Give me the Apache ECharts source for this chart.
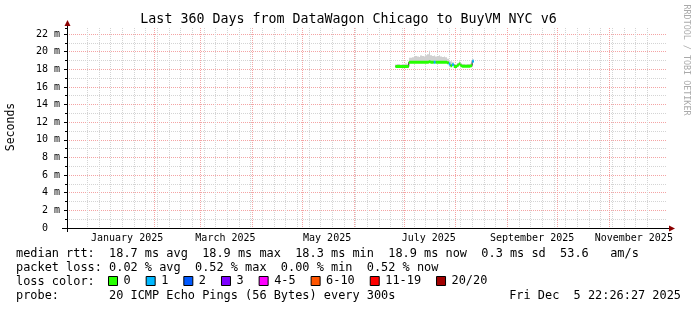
<!DOCTYPE html>
<html><head><meta charset="utf-8">
<script src="https://cdn.jsdelivr.net/npm/echarts@6/dist/echarts.min.js"></script>
<style>html,body{margin:0;padding:0;background:#fff}#c{width:697px;height:310px}</style>
</head><body><div id="c"></div>
<script>
// ---- data ----
const dates = ['2025-06-26','2025-06-27','2025-06-28','2025-06-29','2025-06-30','2025-07-01','2025-07-02','2025-07-03',
  '2025-07-04','2025-07-05','2025-07-06','2025-07-07','2025-07-08','2025-07-09','2025-07-10','2025-07-11','2025-07-12',
  '2025-07-13','2025-07-14','2025-07-15','2025-07-16','2025-07-17','2025-07-18','2025-07-19','2025-07-20','2025-07-21',
  '2025-07-22','2025-07-23','2025-07-24','2025-07-25','2025-07-26','2025-07-27','2025-07-28','2025-07-29','2025-07-30',
  '2025-07-31','2025-08-01','2025-08-02','2025-08-03','2025-08-04','2025-08-05','2025-08-06','2025-08-07','2025-08-08',
  '2025-08-09','2025-08-10','2025-08-11'];
const medianMs = [18.3,18.3,18.3,18.3,18.3,18.3,18.3,18.3,
  18.8,18.8,18.8,18.8,18.8,18.8,18.8,18.8,18.8,
  18.8,18.8,18.8,18.85,18.8,18.8,18.8,18.8,18.8,
  18.8,18.8,18.8,18.8,18.8,18.75,18.6,18.4,18.5,
  18.3,18.3,18.45,18.6,18.4,18.35,18.35,18.35,18.35,
  18.35,18.4,18.9];
const lossPings = [0,0,0,0,0,0,0,0,
  0,0,0,0,0,0,0,0,0,
  0,0,0,0,0,0,1,0,0,
  0,0,0,0,0,0,1,0,1,
  0,0,0,0,0,0,0,0,0,
  0,0,1];
const smokeHiMs = [18.55,18.6,18.6,18.55,18.6,18.6,18.65,18.6,
  19.3,19.3,19.35,19.4,19.5,19.45,19.4,19.55,19.5,
  19.45,19.6,19.7,20.1,19.6,19.5,19.55,19.45,19.5,
  19.6,19.45,19.4,19.45,19.35,19.2,19.0,18.9,18.8,
  18.6,18.6,18.7,18.9,18.7,18.6,18.6,18.55,18.6,
  18.6,18.65,19.1];
const lossNames = ['0','1','2','3','4-5','6-10','11-19','20/20'];
const lossColors = ['#26ff00','#00b8ff','#0059ff','#7e00ff','#ff00ff','#ff5500','#ff0000','#a10000'];
const lossUpper = [0,1,2,3,5,10,19,20];
const monthLabels = ['January 2025','March 2025','May 2025','July 2025','September 2025','November 2025'];
const yTickLabels = ['0  ','2 m','4 m','6 m','8 m','10 m','12 m','14 m','16 m','18 m','20 m','22 m'];
const titleText = 'Last 360 Days from DataWagon Chicago to BuyVM NYC v6';
const rttLine = 'median rtt:  18.7 ms avg  18.9 ms max  18.3 ms min  18.9 ms now  0.3 ms sd  53.6   am/s';
const lossLine = 'packet loss: 0.02 % avg  0.52 % max  0.00 % min  0.52 % now';
const probeLine = 'probe:       20 ICMP Echo Pings (56 Bytes) every 300s';
const stampText = 'Fri Dec  5 22:26:27 2025';

// ---- layout ----
const MONO = "'DejaVu Sans Mono', monospace";
const GL = 67, GR = 667, GT = 28, GB = 228;
const DAY = 86400000;
const END = Date.UTC(2025, 11, 5, 22, 26, 27);
const START = END - 360 * DAY;
const YMAX = 22.68;

const ts = dates.map(d => Date.parse(d + 'T00:00:00Z'));
const monthStarts = [];
for (let m = 0; m < 12; m++) { const t = Date.UTC(2025, m, 1); if (t > START && t < END) monthStarts.push(t); }
const labelValues = monthLabels.map((s, i) => Date.UTC(2025, i * 2, 16));
const mondays = [];
for (let t = Date.UTC(2024, 11, 16); t < END; t += 7 * DAY) mondays.push(t);

const lastT = ts[ts.length - 1] + DAY;
const medData = ts.map((t, i) => [t, medianMs[i]]).concat([[lastT, medianMs[medianMs.length - 1]]]);
const smokeData = ts.map((t, i) => [t, medianMs[i], smokeHiMs[i]]);

function lossCat(n) { for (let k = 0; k < lossUpper.length; k++) if (n <= lossUpper[k]) return k; return lossUpper.length - 1; }
const bandSeries = lossNames.map((name, k) => {
  const d = [];
  ts.forEach((t, i) => {
    if (lossCat(lossPings[i]) !== k) return;
    const tn = i + 1 < ts.length ? ts[i + 1] : lastT;
    d.push([t, medianMs[i]], [tn, medianMs[i]], [tn + 1, null]);
  });
  return { name: 'band' + name, type: 'line', xAxisIndex: 1, yAxisIndex: 1, data: d, showSymbol: false, symbol: 'none',
    connectNulls: false, silent: true, lineStyle: { color: lossColors[k], width: 3, cap: 'butt' }, z: 4 };
});
const legendSeries = lossNames.map((name, k) => ({ name, type: 'bar', xAxisIndex: 1, yAxisIndex: 1, data: [], itemStyle: { color: lossColors[k] } }));

const chart = echarts.init(document.getElementById('c'), null, { renderer: 'canvas' });
const grayDot = { color: '#d4d4d4', width: 1, type: [1, 1] };
const redDot = { color: '#f4a4a4', width: 1, type: [1, 1] };
chart.setOption({
  animation: false,
  backgroundColor: '#ffffff',
  textStyle: { fontFamily: MONO },
  grid: { left: GL, right: 697 - GR, top: GT, bottom: 310 - GB, containLabel: false },
  xAxis: [
    { type: 'value', min: START, max: END, position: 'bottom',
      axisLine: { show: false }, axisLabel: { show: false },
      axisTick: { show: false, customValues: mondays },
      splitLine: { show: true, lineStyle: grayDot, showMinLine: false, showMaxLine: false } },
    { type: 'value', min: START, max: END, position: 'bottom',
      axisLine: { show: true, lineStyle: { color: '#000', width: 1 } },
      axisTick: { show: false, customValues: monthStarts },
      axisLabel: { show: true, customValues: labelValues, margin: 5, fontFamily: MONO, fontSize: 10, color: '#000',
        formatter: v => { const i = labelValues.indexOf(v); return i >= 0 ? monthLabels[i] : ''; } },
      splitLine: { show: true, lineStyle: redDot, showMinLine: false, showMaxLine: false } }
  ],
  yAxis: [
    { type: 'value', min: 0, max: YMAX, interval: 1, position: 'left',
      axisLine: { show: false }, axisLabel: { show: false },
      axisTick: { show: true, length: 2, lineStyle: { color: '#000' } },
      splitLine: { show: true, lineStyle: grayDot, showMinLine: false, showMaxLine: false } },
    { type: 'value', min: 0, max: YMAX, interval: 2, position: 'left',
      axisLine: { show: true, lineStyle: { color: '#000', width: 1 } },
      axisTick: { show: true, length: 3, lineStyle: { color: '#000' } },
      axisLabel: { show: true, margin: 7, fontFamily: MONO, fontSize: 10, color: '#000', showMaxLabel: false,
        formatter: v => { const i = Math.round(v / 2); return (Math.abs(v - i * 2) < 1e-6 && yTickLabels[i] !== undefined) ? yTickLabels[i] : ''; } },
      splitLine: { show: true, lineStyle: redDot, showMinLine: false, showMaxLine: false } }
  ],
  legend: {
    data: lossNames, left: 108, top: 275, padding: 0, itemGap: 15, itemWidth: 9, itemHeight: 9,
    icon: 'rect', selectedMode: false,
    itemStyle: { borderColor: '#000', borderWidth: 1 },
    textStyle: { fontFamily: MONO, fontSize: 11.9, color: '#000', padding: [0, 0, 0, 1] }
  },
  series: [
    { name: 'smoke', type: 'custom', xAxisIndex: 1, yAxisIndex: 1, data: smokeData, silent: true, z: 2,
      encode: { x: 0, y: [1, 2] },
      renderItem: (params, api) => {
        const t = api.value(0), lo = api.value(1), hi = api.value(2);
        const a = api.coord([t, hi]), b = api.coord([t + DAY, lo]);
        const x0 = Math.round(a[0]), x1 = Math.round(b[0]);
        return { type: 'rect', shape: { x: x0, y: a[1], width: Math.max(1, x1 - x0), height: b[1] - a[1] },
          style: { fill: '#d0d0d0' } };
      } },
    { name: 'median', type: 'line', xAxisIndex: 1, yAxisIndex: 1, step: 'end', data: medData,
      symbol: 'none', silent: true, lineStyle: { color: '#202020', width: 1 }, z: 3 }
  ].concat(bandSeries, legendSeries),
  graphic: [
    { type: 'text', left: 'center', top: 13, style: { text: titleText, font: '13.3px ' + MONO, fill: '#000' } },
    { type: 'text', x: 11, y: 127, rotation: Math.PI / 2, style: { text: 'Seconds', font: '11.5px ' + MONO, fill: '#000', align: 'center', verticalAlign: 'middle' } },
    { type: 'text', x: 686, y: 60, rotation: -Math.PI / 2, style: { text: 'RRDTOOL / TOBI OETIKER', font: '8.4px ' + MONO, fill: '#aaaaaa', align: 'center', verticalAlign: 'middle' } },
    { type: 'text', x: 16, y: 254, style: { text: rttLine, font: '11.9px ' + MONO, fill: '#000', verticalAlign: 'middle' } },
    { type: 'text', x: 16, y: 268, style: { text: lossLine, font: '11.9px ' + MONO, fill: '#000', verticalAlign: 'middle' } },
    { type: 'text', x: 16, y: 282, style: { text: 'loss color:', font: '11.9px ' + MONO, fill: '#000', verticalAlign: 'middle' } },
    { type: 'text', x: 16, y: 296, style: { text: probeLine, font: '11.9px ' + MONO, fill: '#000', verticalAlign: 'middle' } },
    { type: 'text', x: 681, y: 296, style: { text: stampText, font: '11.9px ' + MONO, fill: '#000', align: 'right', verticalAlign: 'middle' } },
    { type: 'line', shape: { x1: 62, y1: GB + 0.5, x2: GR + 2, y2: GB + 0.5 }, style: { stroke: '#000', lineWidth: 1 } },
    { type: 'line', shape: { x1: GL + 0.5, y1: GB + 4, x2: GL + 0.5, y2: GT - 3 }, style: { stroke: '#000', lineWidth: 1 } },
    { type: 'polygon', shape: { points: [[GR + 2, GB - 2.5], [GR + 8, GB + 0.5], [GR + 2, GB + 3.5]] }, style: { fill: '#8b0000' } },
    { type: 'polygon', shape: { points: [[GL - 2.5, GT - 2], [GL + 0.5, GT - 8], [GL + 3.5, GT - 2]] }, style: { fill: '#8b0000' } }
  ]
});
</script></body></html>
